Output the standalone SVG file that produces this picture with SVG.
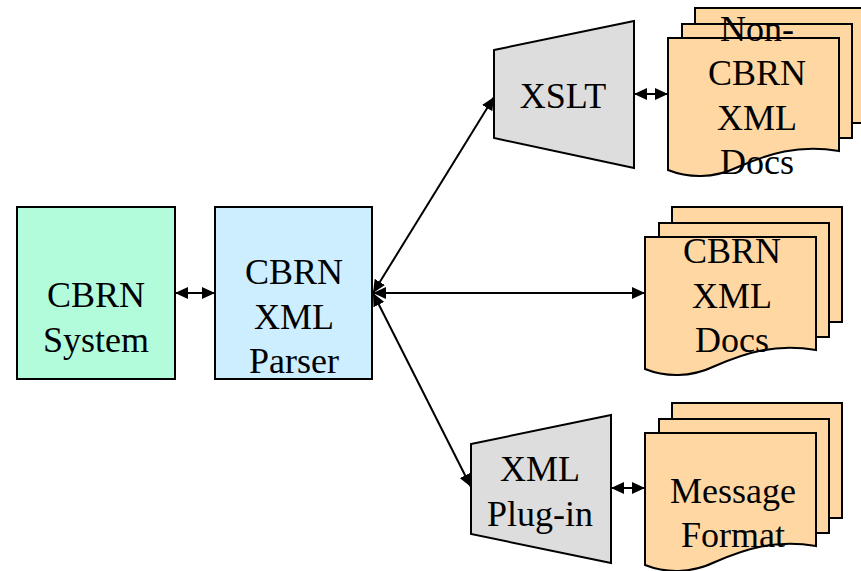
<svg xmlns="http://www.w3.org/2000/svg" xmlns:xlink="http://www.w3.org/1999/xlink" width="861" height="571" viewBox="0 0 861 571">
<style>
.box{stroke:#000;stroke-width:2}
.sys{fill:#b3fcdb}
.par{fill:#cdeeff}
.trap{fill:#dddddd}
.doc{fill:#ffd7a3;stroke:#000;stroke-width:2;stroke-linejoin:miter}
.t{font-family:'Liberation Serif','DejaVu Serif',serif;font-size:36px;fill:#000;text-anchor:middle}
.c{stroke:#000;stroke-width:2;fill:none;marker-start:url(#ah);marker-end:url(#ah)}
</style>
<defs>
<marker id="ah" markerUnits="userSpaceOnUse" viewBox="0 0 13 12" refX="13" refY="6" markerWidth="13" markerHeight="12" orient="auto-start-reverse">
<path d="M0,0 L13,6 L0,12 z" fill="#000"/>
</marker>
<g id="stack">
<rect class="doc" x="27" y="-30" width="170" height="115"/>
<rect class="doc" x="14" y="-14" width="170" height="114"/>
<path class="doc" d="M0,0 H171 V113 C130,106 100,116 70,129 C45,141 20,140 0,132 Z"/>
</g>
</defs>

<g id="cbrn-system">
<rect class="box sys" x="17" y="207" width="158" height="172"/>
<text class="t" x="96" y="307" font-family="Liberation Serif, serif">CBRN</text>
<text class="t" x="96" y="352">System</text>
</g>

<g id="cbrn-xml-parser">
<rect class="box par" x="215" y="207" width="157" height="172"/>
<text class="t" x="294" y="284">CBRN</text>
<text class="t" x="294" y="329">XML</text>
<text class="t" x="294" y="373">Parser</text>
</g>

<g id="xslt">
<polygon class="box trap" points="494,50 634,21 634,168 494,138"/>
<text class="t" x="563" y="108">XSLT</text>
</g>

<g id="non-cbrn-docs">
<use xlink:href="#stack" transform="translate(668,38)"/>
<text class="t" x="757" y="41">Non-</text>
<text class="t" x="757" y="85">CBRN</text>
<text class="t" x="757" y="130">XML</text>
<text class="t" x="757" y="174">Docs</text>
</g>

<g id="cbrn-xml-docs">
<use xlink:href="#stack" transform="translate(645,237)"/>
<text class="t" x="732" y="263">CBRN</text>
<text class="t" x="732" y="308">XML</text>
<text class="t" x="732" y="352">Docs</text>
</g>

<g id="xml-plugin">
<polygon class="box trap" points="471,444 611,415 611,563 471,534"/>
<text class="t" x="540" y="481">XML</text>
<text class="t" x="540" y="526">Plug-in</text>
</g>

<g id="message-format">
<use xlink:href="#stack" transform="translate(645,433)"/>
<text class="t" x="733" y="503">Message</text>
<text class="t" x="733" y="547">Format</text>
</g>

<g id="connectors">
<line class="c" x1="175" y1="293" x2="215" y2="293"/>
<line class="c" x1="373" y1="293" x2="645" y2="293"/>
<line class="c" x1="373" y1="293" x2="494" y2="97"/>
<line class="c" x1="373" y1="293" x2="471" y2="487"/>
<line class="c" x1="634" y1="94" x2="668" y2="94"/>
<line class="c" x1="611" y1="488" x2="645" y2="488"/>
</g>
</svg>
